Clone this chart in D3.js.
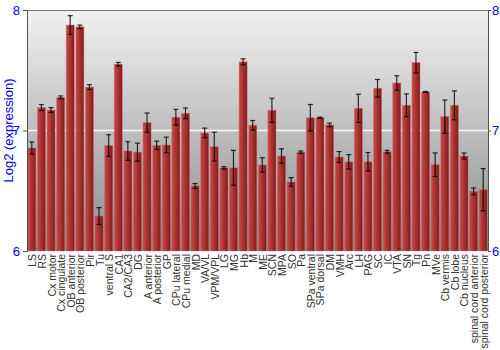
<!DOCTYPE html>
<html><head><meta charset="utf-8">
<script src="https://cdn.jsdelivr.net/npm/d3@7"></script>
<style>body{margin:0;background:#fff}svg{display:block}</style>
</head><body>
<svg id="c" width="500" height="350"></svg>
<script>
const categories = ["LS","RS","Cx motor","Cx cingulate","OB anterior","OB posterior","Pir","Tu","ventral S","CA1","CA2/CA3","DG","A anterior","A posterior","GP","CPu lateral","CPu medial","MD","VA/VL","VPM/VPL","LG","MG","Hb","M","ME","SCN","MPA","SO","Pa","SPa ventral","SPa dorsal","DM","VMH","Arc","LH","PAG","SC","IC","VTA","SN","Tg","Pn","MVe","Cb vermis","Cb lobe","Cb nucleus","spinal cord anterior","spinal cord posterior"];
const values = [6.855,7.19,7.17,7.275,7.875,7.86,7.36,6.29,6.875,7.55,6.83,6.82,7.065,6.877,6.88,7.11,7.143,6.54,6.98,6.866,6.69,6.69,7.57,7.043,6.714,7.168,6.788,6.573,6.82,7.106,7.106,7.046,6.78,6.74,7.184,6.74,7.35,6.824,7.394,7.209,7.563,7.32,6.716,7.115,7.209,6.788,6.495,6.509];
const errors = [0.05,0.025,0.02,0.012,0.078,0.015,0.02,0.07,0.09,0.015,0.077,0.075,0.08,0.035,0.065,0.065,0.044,0.02,0.04,0.12,0.01,0.145,0.025,0.04,0.06,0.1,0.06,0.036,0.01,0.11,0.005,0.015,0.045,0.06,0.117,0.077,0.073,0.012,0.06,0.095,0.085,0.004,0.098,0.138,0.12,0.025,0.028,0.175];
const yTicks = [6,7,8];

const svg = d3.select("#c");
const L = 27, R = 488, T = 10, B = 251;
const x = d3.scaleBand().domain(categories).range([L, R]).paddingInner(0.16).paddingOuter(0.08);
const y = d3.scaleLinear().domain([6, 8]).range([B, T]);

const defs = svg.append("defs");
const bg = defs.append("linearGradient").attr("id","bg").attr("x1",0).attr("x2",0).attr("y1",0).attr("y2",1);
bg.append("stop").attr("offset","0%").attr("stop-color","#f2f2f2");
bg.append("stop").attr("offset","100%").attr("stop-color","#8a8a8a");
const bar = defs.append("linearGradient").attr("id","bar").attr("x1",0).attr("x2",1).attr("y1",0).attr("y2",0);
bar.append("stop").attr("offset","0%").attr("stop-color","#c84a4a");
bar.append("stop").attr("offset","35%").attr("stop-color","#b43838");
bar.append("stop").attr("offset","100%").attr("stop-color","#801c1c");

svg.append("rect").attr("x",L).attr("y",T).attr("width",R-L).attr("height",B-T).attr("fill","url(#bg)");

svg.append("line").attr("x1",L).attr("x2",R).attr("y1",y(7)).attr("y2",y(7)).attr("stroke","#fff").attr("stroke-width",1.5).attr("opacity",0.9);
svg.append("line").attr("x1",L).attr("x2",R).attr("y1",T+0.5).attr("y2",T+0.5).attr("stroke","#777");

const g = svg.append("g");
g.selectAll("rect.b").data(categories).join("rect").attr("class","b")
  .attr("x", d => x(d)).attr("width", x.bandwidth())
  .attr("y", (d,i) => y(values[i])).attr("height", (d,i) => B - y(values[i]))
  .attr("fill","url(#bar)").attr("stroke","#d86a6a").attr("stroke-opacity",0.5).attr("stroke-width",0.8);

const eb = svg.append("g").attr("stroke","#000").attr("stroke-opacity",0.8).attr("stroke-width",1.2);
categories.forEach((c,i) => {
  const cx = x(c) + x.bandwidth()/2;
  const y1 = y(values[i]+errors[i]), y2 = y(values[i]-errors[i]);
  eb.append("line").attr("x1",cx).attr("x2",cx).attr("y1",y1).attr("y2",y2);
  eb.append("line").attr("x1",cx-2.5).attr("x2",cx+2.5).attr("y1",y1).attr("y2",y1);
  eb.append("line").attr("x1",cx-2.5).attr("x2",cx+2.5).attr("y1",y2).attr("y2",y2);
});

const la = svg.append("g").attr("transform",`translate(${L},0)`).call(d3.axisLeft(y).tickValues(yTicks).tickSize(4).tickPadding(3).tickFormat(d3.format("d")));
const ra = svg.append("g").attr("transform",`translate(${R},0)`).call(d3.axisRight(y).tickValues(yTicks).tickSize(3).tickPadding(1).tickFormat(d3.format("d")));
[la,ra].forEach(a => {
  a.select(".domain").attr("stroke","#555");
  a.selectAll(".tick line").attr("stroke","#555");
  a.selectAll("text").attr("fill","#0000ff").attr("font-family","Liberation Sans, Arial, sans-serif").attr("font-size",13);
});

svg.append("text").attr("transform",`translate(13,${(T+B)/2}) rotate(-90)`).attr("text-anchor","middle")
  .attr("fill","#0000ff").attr("font-family","Liberation Sans, Arial, sans-serif").attr("font-size",13).text("Log2 (expression)");

svg.append("g").selectAll("text").data(categories).join("text")
  .attr("transform", d => `translate(${x(d)+x.bandwidth()/2+4.5},${B+3}) rotate(-90)`)
  .attr("text-anchor","end").attr("fill","#333").attr("font-family","Liberation Sans, Arial, sans-serif").attr("font-size",10.5)
  .text(d => d);
</script>
</body></html>
